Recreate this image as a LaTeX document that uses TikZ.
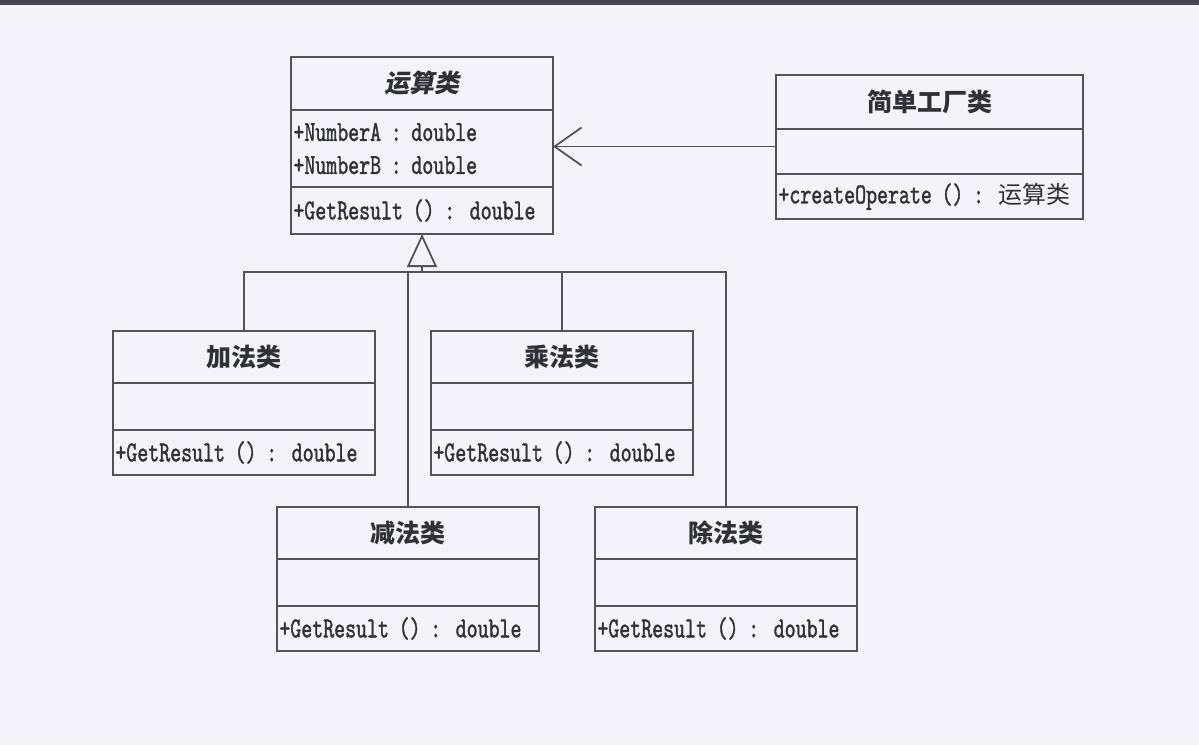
\documentclass[tikz,border=0pt]{standalone}
\usepackage{fontspec}
\usetikzlibrary{positioning,arrows.meta}
\newfontfamily\cjk{Noto Sans CJK SC}
\newfontfamily\cjkslant[FakeSlant=0.2]{Noto Sans CJK SC}
\newfontfamily\memfont[FakeStretch=0.72,FakeBold=1.2]{lmmono10-regular.otf}
\definecolor{paper}{RGB}{244,243,249}
\definecolor{umlline}{RGB}{82,82,94}
\definecolor{umltext}{RGB}{48,48,56}

\begin{document}
\begin{tikzpicture}[x=0.5pt, y=-0.5pt, line width=0.9pt, color=umlline,
      every node/.append style={text=umltext, outer sep=0pt, inner xsep=1.2pt, inner ysep=0pt},
      umlbox/.style={draw, line width=1.2pt, text width=#1},
      umlbox/.default=128.6pt,
      classname/.style={umlbox=#1, align=center, font=\cjk\bfseries\fontsize{12.5pt}{14pt}\selectfont},
      classname/.default=128.6pt,
      members/.style={umlbox=#1, align=left, font=\memfont\fontsize{14.5pt}{16.5pt}\selectfont},
      members/.default=128.6pt]
    \useasboundingbox (0,0) rectangle (1199,745);
    \fill[paper] (0,0) rectangle (1199,745);
    \draw[line width=2.5pt, color=umlline!85!black] (0,2.5) -- (1199,2.5);

    % abstract class
    \node (op) [classname, anchor=north west, minimum height=26.5pt, font=\cjkslant\bfseries\fontsize{12.5pt}{14pt}\selectfont] at (291,57) {运算类};
    \node (opattr) [members, minimum height=38.5pt, below=0pt of op] {+NumberA : double\\+NumberB : double};
    \node (opmeth) [members, minimum height=23.5pt, below=0pt of opattr] {+GetResult () : double};

    % factory
    \node (fact) [classname=151.1pt, anchor=north west, minimum height=27pt] at (776,75) {简单工厂类};
    \node (factattr) [members=151.1pt, minimum height=22.5pt, below=0pt of fact] {};
    \node (factmeth) [members=151.1pt, minimum height=22.5pt, below=0pt of factattr] {+createOperate () : {\cjk\fontsize{12pt}{14pt}\selectfont 运算类}};

    % subclasses
    \node (add) [classname, anchor=north west, minimum height=26pt] at (113,331) {加法类};
    \node (addattr) [members, minimum height=23.5pt, below=0pt of add] {};
    \node (addmeth) [members, minimum height=22.5pt, below=0pt of addattr] {+GetResult () : double};

    \node (mul) [classname, anchor=north west, minimum height=26pt] at (431,331) {乘法类};
    \node (mulattr) [members, minimum height=23.5pt, below=0pt of mul] {};
    \node (mulmeth) [members, minimum height=22.5pt, below=0pt of mulattr] {+GetResult () : double};

    \node (sub) [classname, anchor=north west, minimum height=26pt] at (277,507) {减法类};
    \node (subattr) [members, minimum height=23.5pt, below=0pt of sub] {};
    \node (submeth) [members, minimum height=22.5pt, below=0pt of subattr] {+GetResult () : double};

    \node (div) [classname, anchor=north west, minimum height=26pt] at (595,507) {除法类};
    \node (divattr) [members, minimum height=23.5pt, below=0pt of div] {};
    \node (divmeth) [members, minimum height=22.5pt, below=0pt of divattr] {+GetResult () : double};

    % dependency
    \draw[-{Straight Barb[length=13.5pt,width=19pt]}] ([yshift=2.5pt]factattr.west) -- ([yshift=2.5pt]factattr.west -| opattr.east);

    % generalization
    \coordinate (hub) at ([yshift=-19pt]opmeth.south);
    \draw[-{Triangle[open,length=16.5pt,width=15pt]}] (hub) -- (opmeth.south);
    \draw (add.north) |- (hub) -| (div.north);
    \draw (mul.north) -- (mul.north |- hub);
    \draw (sub.north) -- (sub.north |- hub);
\end{tikzpicture}
\end{document}
